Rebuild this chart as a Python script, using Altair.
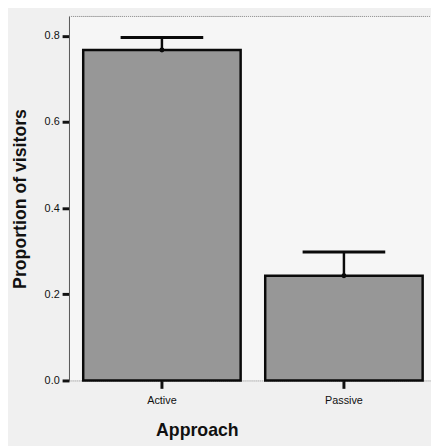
import altair as alt
import pandas as pd

approach = ["Active", "Passive"]
proportion = [0.767, 0.243]
upper = [0.796, 0.298]

df = pd.DataFrame({"Approach": approach, "Proportion": proportion, "Upper": upper})

FONT = "Liberation Sans"
ydom = [0, 0.845]

x = alt.X("Approach:N", title="Approach",
          scale=alt.Scale(paddingInner=0.135, paddingOuter=0.062, align=0.63),
          axis=alt.Axis(labelAngle=0, labelFontSize=11, labelFont=FONT, labelColor="#111",
                        labelFontWeight=500,
                        tickSize=8, tickWidth=3, tickColor="#111", labelPadding=6,
                        domainColor="#888", domainDash=[1, 1], domainWidth=1,
                        titleFont=FONT, titleFontSize=18, titleFontWeight="bold",
                        titleColor="#111", titlePadding=17, titleX=130))

y = alt.Y("Proportion:Q", title="Proportion of visitors",
          scale=alt.Scale(domain=ydom, nice=False, zero=True),
          axis=alt.Axis(values=[0, 0.2, 0.4, 0.6, 0.8], format=".1f", grid=False,
                        labelFontSize=11, labelFont=FONT, labelColor="#111",
                        tickSize=7, tickWidth=3, tickColor="#111", labelPadding=3,
                        domainColor="#555", domainWidth=1,
                        titleFont=FONT, titleFontSize=18, titleFontWeight="bold",
                        titleColor="#111", titlePadding=15))

base = alt.Chart(df)

bars = base.mark_bar(color="#979797", stroke="#0a0a0a", strokeWidth=2.5).encode(x=x, y=y)

err = base.mark_rule(color="#0a0a0a", strokeWidth=2.5, opacity=1).encode(
    x=alt.X("Approach:N"), y=alt.Y("Proportion:Q"), y2="Upper:Q")

cap = base.mark_tick(color="#0a0a0a", size=84, thickness=3, opacity=1).encode(
    x=alt.X("Approach:N"), y=alt.Y("Upper:Q"))

dot = base.mark_point(color="#0a0a0a", filled=True, size=25, opacity=1).encode(
    x=alt.X("Approach:N"), y=alt.Y("Proportion:Q"))

top = alt.Chart(df).mark_rule(color="#999", strokeDash=[1, 1], strokeWidth=1).encode(
    x=alt.value(0), x2=alt.value(368), y=alt.value(0))

chart = alt.layer(top, bars, err, cap, dot).properties(
    width=368, height=370,
    padding={"left": 62, "top": 5, "right": 0, "bottom": 63},
    autosize=alt.AutoSizeParams(type="none"),
    background="#f0f0f0",
).configure_view(stroke=None, fill="#f6f6f6")

chart.save("out.html", embed_options={"renderer": "svg", "actions": False})
